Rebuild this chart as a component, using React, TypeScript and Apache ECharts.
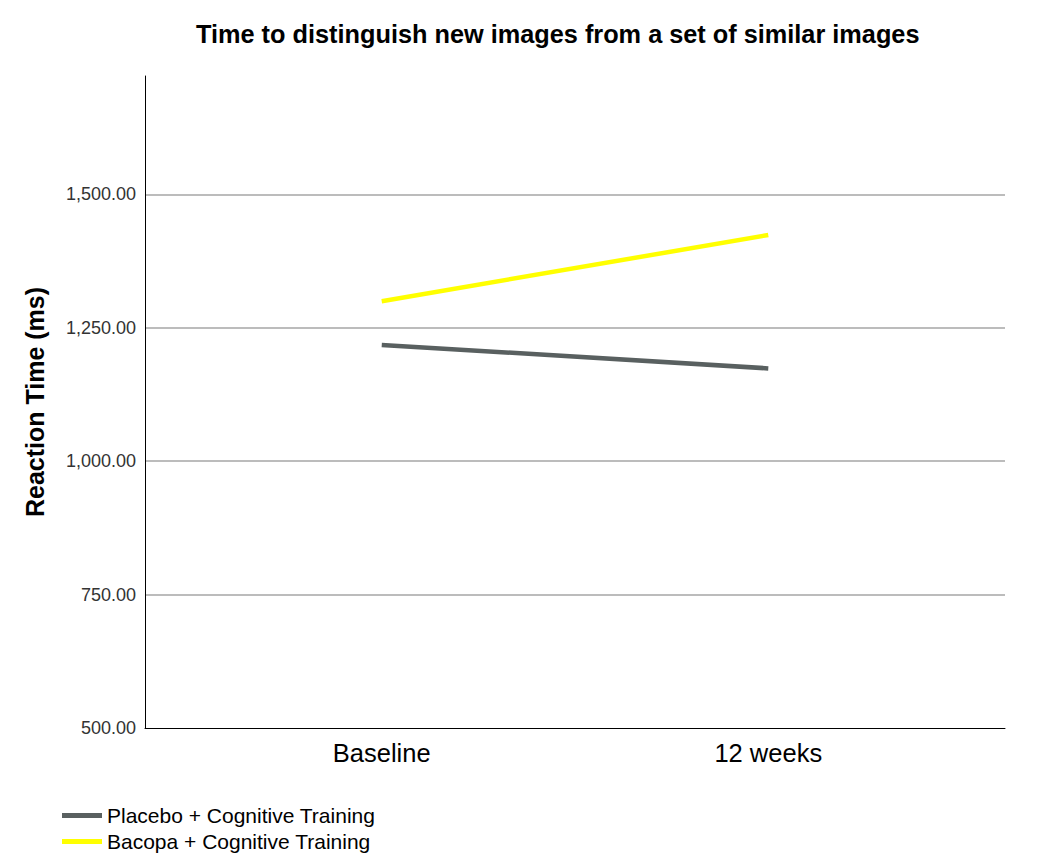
import React, {useEffect, useRef} from 'react';
import * as echarts from 'echarts';

// data
const timepoints = ['Baseline', '12 weeks'];
const groupNames = ['Placebo + Cognitive Training', 'Bacopa + Cognitive Training'];
const placeboValues = [1218, 1174];
const bacopaValues = [1300, 1424];
const yTicks = [500, 750, 1000, 1250, 1500];

const FONT = "'Liberation Sans', Arial, sans-serif";

const App: React.FC = () => {
  const chartRef = useRef<HTMLDivElement | null>(null);

  useEffect(() => {
    document.body.style.margin = '0';
    if (!chartRef.current) return;

    const chart = echarts.init(chartRef.current, undefined, {renderer: 'svg'});

    const toPoints = (vals: number[]) => vals.map((v, i) => [i, v]);

    const option: echarts.EChartsOption = {
      animation: false,
      backgroundColor: '#ffffff',
      title: {
        text: 'Time to distinguish new images from a set of similar images',
        left: 196,
        top: 21,
        padding: 0,
        textStyle: {fontFamily: FONT, fontSize: 25.3, fontWeight: 'bold', color: '#000'}
      },
      grid: {left: 145, right: 36, top: 76, bottom: 134, containLabel: false},
      legend: {
        orient: 'vertical',
        left: 62,
        top: 805,
        padding: 0,
        itemWidth: 40,
        itemHeight: 5,
        itemGap: 5,
        icon: 'rect',
        textStyle: {fontFamily: FONT, fontSize: 21, color: '#000'},
        data: groupNames
      },
      xAxis: {
        type: 'value',
        min: -0.6124,
        max: 1.6124,
        axisLine: {show: true, onZero: false, lineStyle: {color: '#000', width: 1}},
        axisTick: {show: false},
        splitLine: {show: false},
        axisLabel: {
          customValues: [0, 1],
          margin: 12,
          fontFamily: FONT,
          fontSize: 25.5,
          color: '#000',
          formatter: (v: number) => timepoints[Math.round(v)] ?? ''
        }
      },
      yAxis: {
        type: 'value',
        min: yTicks[0],
        max: 1722,
        interval: 250,
        name: 'Reaction Time (ms)',
        nameLocation: 'middle',
        nameGap: 98,
        nameTextStyle: {fontFamily: FONT, fontSize: 25, fontWeight: 'bold', color: '#000'},
        axisLine: {show: true, onZero: false, lineStyle: {color: '#000', width: 1}},
        axisTick: {show: false},
        axisLabel: {
          showMaxLabel: false,
          margin: 9,
          fontFamily: FONT,
          fontSize: 18,
          color: '#333',
          formatter: (v: number) =>
            v.toLocaleString('en-US', {minimumFractionDigits: 2, maximumFractionDigits: 2})
        },
        splitLine: {
          show: true,
          showMinLine: false,
          showMaxLine: false,
          lineStyle: {color: '#a6a6a6', width: 1.5}
        }
      },
      series: [
        {
          name: groupNames[0],
          type: 'line',
          data: toPoints(placeboValues),
          showSymbol: false,
          symbol: 'none',
          lineStyle: {color: '#596060', width: 4.5},
          itemStyle: {color: '#596060'}
        },
        {
          name: groupNames[1],
          type: 'line',
          data: toPoints(bacopaValues),
          showSymbol: false,
          symbol: 'none',
          lineStyle: {color: '#ffff00', width: 4.5},
          itemStyle: {color: '#ffff00'}
        }
      ]
    };

    chart.setOption(option);
    return () => {
      chart.dispose();
    };
  }, []);

  return <div ref={chartRef} style={{width: '1041px', height: '862px'}}/>;
};

export default App;
